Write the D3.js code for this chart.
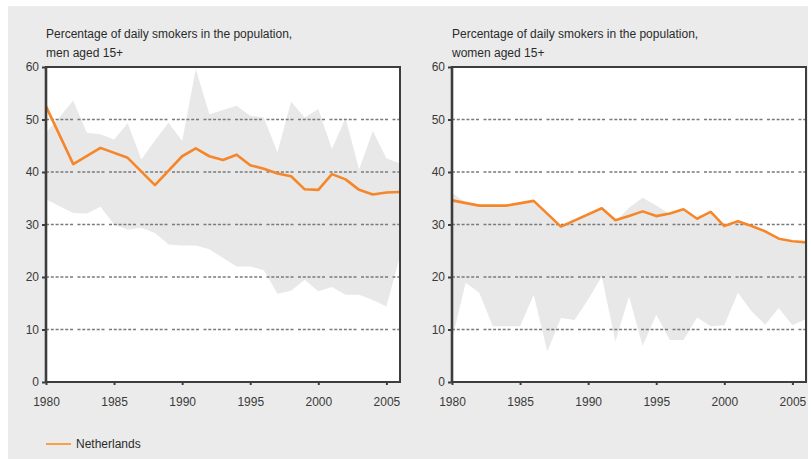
<!DOCTYPE html>
<html>
<head>
<meta charset="utf-8">
<script src="https://cdn.jsdelivr.net/npm/d3@7"></script>
<style>
  body { margin: 0; background: #fff; }
  text { font-family: "Liberation Sans", Arial, sans-serif; }
</style>
</head>
<body>
<div id="chart"></div>
<script>
// Data
const bandYears = [1980, 1981, 1982, 1983, 1984, 1985, 1986, 1987, 1988, 1989, 1990,
  1991, 1992, 1993, 1994, 1995, 1996, 1997, 1998, 1999, 2000, 2001, 2002, 2003, 2004, 2005, 2006];

// grey range of the other countries (men)
const menHigh = [47.5, 50.5, 53.6, 47.5, 47.2, 46.2, 49.3, 42.4, 46.0, 49.4, 45.9,
  59.6, 51.0, 51.8, 52.6, 50.7, 50.4, 43.7, 53.4, 50.4, 52.0, 44.4, 50.3, 40.5, 47.8, 42.6, 41.6];
const menLow = [34.8, 33.5, 32.2, 32.1, 33.4, 30.0, 29.0, 29.4, 28.4, 26.2, 26.0,
  26.0, 25.3, 23.6, 22.0, 22.0, 21.3, 16.8, 17.4, 19.5, 17.3, 18.1, 16.6, 16.6, 15.6, 14.4, 24.0];

// grey range of the other countries (women)
const womenHigh = [36.0, 34.2, 33.3, 33.3, 33.3, 33.8, 34.3, 31.8, 29.4, 30.6, 31.8,
  32.8, 30.5, 33.2, 35.1, 33.6, 32.0, 32.6, 30.8, 32.0, 29.4, 30.4, 29.5, 28.5, 27.0, 26.5, 26.4];
const womenLow = [8.0, 18.9, 17.0, 10.6, 10.6, 10.6, 16.6, 5.8, 12.2, 11.8, 15.7,
  20.1, 7.7, 16.3, 6.9, 12.8, 8.0, 8.0, 12.3, 10.6, 10.8, 17.0, 13.5, 10.9, 14.1, 10.8, 12.0];

// Netherlands
const nlMenYears = [1980, 1982, 1984, 1986, 1988, 1990, 1991, 1992, 1993, 1994, 1995,
  1996, 1997, 1998, 1999, 2000, 2001, 2002, 2003, 2004, 2005, 2006];
const nlMen = [52.5, 41.5, 44.6, 42.7, 37.5, 43.0, 44.5, 43.0, 42.3, 43.3, 41.3,
  40.6, 39.7, 39.2, 36.7, 36.6, 39.6, 38.6, 36.6, 35.7, 36.1, 36.2];

const nlWomenYears = [1980, 1982, 1984, 1986, 1988, 1991, 1992, 1993, 1994, 1995,
  1996, 1997, 1998, 1999, 2000, 2001, 2002, 2003, 2004, 2005, 2006];
const nlWomen = [34.6, 33.6, 33.6, 34.5, 29.6, 33.1, 30.8, 31.6, 32.5, 31.6,
  32.1, 32.9, 31.1, 32.4, 29.7, 30.6, 29.7, 28.7, 27.3, 26.8, 26.6];

const yTicks = [0, 10, 20, 30, 40, 50, 60];
const xTicks = [1980, 1985, 1990, 1995, 2000, 2005];

const titles = [
  ["Percentage of daily smokers in the population,", "men aged 15+"],
  ["Percentage of daily smokers in the population,", "women aged 15+"]
];
const legendLabel = "Netherlands";

// Layout
const W = 811, H = 459;
const plotW = 354, plotH = 315;
const panelLeft = [46, 452];
const panelTop = 67;

const orange = "#f5862a";
const bandColor = "#e8e8e8";
const frameColor = "#3d3d3d";

const svg = d3.select("#chart")
  .append("svg")
  .attr("width", W)
  .attr("height", H);

// grey background panel
svg.append("rect")
  .attr("x", 8)
  .attr("y", 6)
  .attr("width", 800)
  .attr("height", H - 6)
  .attr("fill", "#ebebeb");

const x = d3.scaleLinear().domain([1980, 2006]).range([0, plotW]);
const y = d3.scaleLinear().domain([0, 60]).range([plotH, 0]);

function drawPanel(i, high, low, nlYears, nlVals) {
  const g = svg.append("g")
    .attr("transform", `translate(${panelLeft[i]},${panelTop})`);

  // title (two lines)
  titles[i].forEach((t, k) => {
    g.append("text")
      .attr("x", 0)
      .attr("y", -29.5 + k * 19)
      .attr("font-size", 12)
      .attr("fill", "#2a2a2a")
      .text(t);
  });

  // white plot area
  g.append("rect")
    .attr("width", plotW)
    .attr("height", plotH)
    .attr("fill", "#fff");

  // range band
  const band = bandYears.map((yr, j) => ({ yr, lo: low[j], hi: high[j] }));
  g.append("path")
    .datum(band)
    .attr("fill", bandColor)
    .attr("d", d3.area()
      .x(d => x(d.yr))
      .y0(d => y(d.lo))
      .y1(d => y(d.hi)));

  // dotted grid
  g.selectAll(".grid")
    .data(yTicks.filter(v => v > 0 && v < 60))
    .enter()
    .append("line")
    .attr("x1", 0)
    .attr("x2", plotW)
    .attr("y1", d => y(d))
    .attr("y2", d => y(d))
    .attr("stroke", "#7a7a7a")
    .attr("stroke-width", 1.6)
    .attr("stroke-dasharray", "3,1.8,3,1.8,3,1.8,3,1.8,3,1.8,3,4.5");

  // Netherlands line
  const nl = nlYears.map((yr, j) => ({ yr, v: nlVals[j] }));
  g.append("path")
    .datum(nl)
    .attr("fill", "none")
    .attr("stroke", orange)
    .attr("stroke-width", 2.6)
    .attr("stroke-linejoin", "round")
    .attr("d", d3.line().x(d => x(d.yr)).y(d => y(d.v)));

  // frame
  g.append("rect")
    .attr("width", plotW)
    .attr("height", plotH)
    .attr("fill", "none")
    .attr("stroke", frameColor)
    .attr("stroke-width", 2);

  // axes
  const yAxis = d3.axisLeft(y).tickValues(yTicks).tickSize(4).tickPadding(3);
  const xAxis = d3.axisBottom(x).tickValues(xTicks).tickFormat(d3.format("d"))
    .tickSize(3).tickPadding(12);

  const ya = g.append("g").call(yAxis);
  const xa = g.append("g").attr("transform", `translate(0,${plotH})`).call(xAxis);

  [ya, xa].forEach(a => {
    a.select(".domain").remove();
    a.selectAll("line").attr("stroke", frameColor).attr("stroke-width", 2);
    a.selectAll("text")
      .attr("font-size", 12)
      .attr("fill", "#3a3a3a")
      .style("font-family", "'Liberation Sans', Arial, sans-serif");
  });

  // thicker left axis line
  g.append("line")
    .attr("x1", 0).attr("x2", 0)
    .attr("y1", -1).attr("y2", plotH + 1)
    .attr("stroke", frameColor)
    .attr("stroke-width", 2.6);
}

drawPanel(0, menHigh, menLow, nlMenYears, nlMen);
drawPanel(1, womenHigh, womenLow, nlWomenYears, nlWomen);

// legend
const legend = svg.append("g").attr("transform", "translate(46,444)");
legend.append("line")
  .attr("x1", 0).attr("x2", 25)
  .attr("stroke", "#f8a04a")
  .attr("stroke-width", 2);
legend.append("text")
  .attr("x", 30)
  .attr("dy", "0.35em")
  .attr("font-size", 12)
  .attr("fill", "#2a2a2a")
  .text(legendLabel);
</script>
</body>
</html>
